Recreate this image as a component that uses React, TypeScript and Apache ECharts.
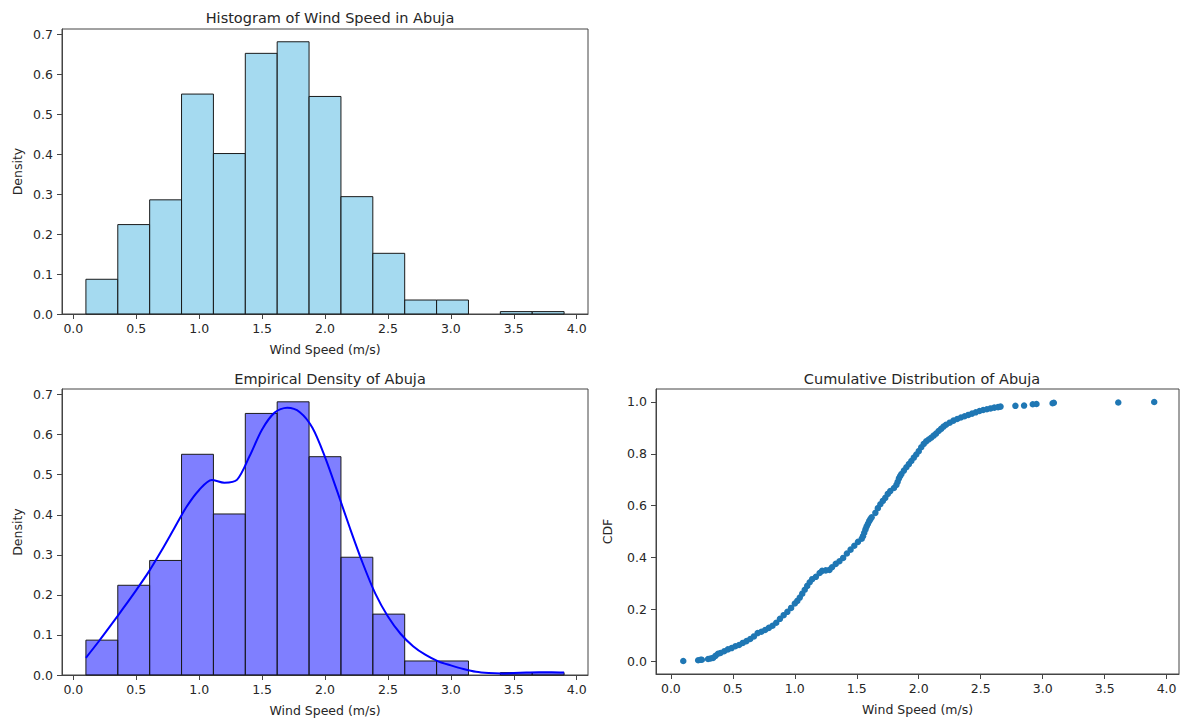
import React, { useEffect, useRef } from "react";
import * as echarts from "echarts";

// Histogram bins (wind speed, m/s) and density heights
const binEdges = [0.1, 0.3533, 0.6067, 0.86, 1.1133, 1.3667, 1.62, 1.8733, 2.1267, 2.38, 2.6333, 2.8867, 3.14, 3.3933, 3.6467, 3.9];
const histDensity = [0.087, 0.224, 0.286, 0.551, 0.402, 0.653, 0.682, 0.545, 0.294, 0.152, 0.035, 0.035, 0, 0.006, 0.006];

// KDE curve
const kdeX = [0.1, 0.2, 0.3, 0.4, 0.5, 0.6, 0.7, 0.8, 0.9, 1.0, 1.1, 1.2, 1.3, 1.4, 1.5, 1.6, 1.7, 1.8, 1.9, 2.0, 2.1, 2.2, 2.3, 2.4, 2.5, 2.6, 2.7, 2.8, 2.9, 3.0, 3.1, 3.2, 3.3, 3.4, 3.5, 3.6, 3.7, 3.8, 3.9];
const kdeY = [0.043, 0.083, 0.125, 0.168, 0.212, 0.258, 0.31, 0.365, 0.42, 0.462, 0.487, 0.48, 0.487, 0.546, 0.613, 0.655, 0.667, 0.656, 0.617, 0.544, 0.456, 0.365, 0.279, 0.203, 0.146, 0.103, 0.072, 0.05, 0.034, 0.024, 0.015, 0.008, 0.005, 0.004, 0.005, 0.006, 0.007, 0.007, 0.006];

// Empirical CDF points
const cdfX = [0.10, 0.22, 0.24, 0.25, 0.30, 0.32, 0.34, 0.36, 0.38, 0.40, 0.43, 0.46, 0.49, 0.52, 0.55, 0.58, 0.61, 0.64, 0.67, 0.70, 0.73, 0.76, 0.79, 0.82, 0.85, 0.88, 0.91, 0.94, 0.97, 1.00, 1.02, 1.04, 1.06, 1.08, 1.10, 1.12, 1.14, 1.17, 1.20, 1.22, 1.25, 1.28, 1.30, 1.33, 1.36, 1.39, 1.42, 1.45, 1.48, 1.51, 1.54, 1.55, 1.56, 1.57, 1.58, 1.59, 1.60, 1.61, 1.62, 1.65, 1.67, 1.69, 1.71, 1.73, 1.75, 1.77, 1.80, 1.82, 1.83, 1.84, 1.85, 1.86, 1.88, 1.90, 1.92, 1.94, 1.96, 1.98, 2.00, 2.02, 2.04, 2.06, 2.08, 2.10, 2.12, 2.14, 2.16, 2.18, 2.20, 2.22, 2.25, 2.28, 2.31, 2.34, 2.37, 2.40, 2.43, 2.46, 2.49, 2.52, 2.55, 2.58, 2.61, 2.64, 2.66, 2.78, 2.85, 2.92, 2.95, 3.08, 3.09, 3.61, 3.90];
const cdfY = [0.000, 0.003, 0.005, 0.005, 0.008, 0.010, 0.012, 0.020, 0.028, 0.031, 0.038, 0.045, 0.050, 0.057, 0.062, 0.070, 0.077, 0.085, 0.095, 0.108, 0.113, 0.120, 0.128, 0.136, 0.148, 0.163, 0.177, 0.190, 0.205, 0.222, 0.232, 0.245, 0.260, 0.275, 0.290, 0.304, 0.316, 0.325, 0.340, 0.348, 0.350, 0.352, 0.362, 0.375, 0.385, 0.398, 0.415, 0.430, 0.445, 0.460, 0.472, 0.482, 0.495, 0.508, 0.520, 0.530, 0.540, 0.548, 0.555, 0.572, 0.590, 0.605, 0.618, 0.630, 0.645, 0.656, 0.668, 0.680, 0.692, 0.705, 0.714, 0.722, 0.735, 0.748, 0.760, 0.772, 0.785, 0.797, 0.810, 0.825, 0.838, 0.848, 0.855, 0.862, 0.870, 0.878, 0.888, 0.896, 0.905, 0.912, 0.920, 0.928, 0.934, 0.940, 0.945, 0.950, 0.955, 0.960, 0.965, 0.969, 0.972, 0.975, 0.978, 0.980, 0.982, 0.985, 0.986, 0.991, 0.992, 0.995, 0.997, 0.998, 1.000];

// Tick labels
const xTicks = [0, 0.5, 1.0, 1.5, 2.0, 2.5, 3.0, 3.5, 4.0];
const densityTicks = [0, 0.1, 0.2, 0.3, 0.4, 0.5, 0.6, 0.7];
const cdfTicks = [0, 0.2, 0.4, 0.6, 0.8, 1.0];

const titles = ["Histogram of Wind Speed in Abuja", "Empirical Density of Abuja", "Cumulative Distribution of Abuja"];
const xName = "Wind Speed (m/s)";

const FONT = "DejaVu Sans";
const TXT = "#262626";
const SPINE = "#444444";

function axisCommon(ticks: number[]) {
  return {
    axisLine: { show: true, onZero: false, lineStyle: { color: SPINE, width: 1 } },
    axisTick: { show: true, inside: false, length: 5, customValues: ticks, lineStyle: { color: SPINE, width: 1 } },
    axisLabel: {
      customValues: ticks,
      formatter: (v: number) => Number(v).toFixed(1),
      color: TXT,
      fontSize: 12.5,
      fontFamily: FONT,
    },
    splitLine: { show: false },
    nameTextStyle: { color: TXT, fontSize: 12.5, fontFamily: FONT },
  };
}

function histRender(fill: string) {
  return (params: any, api: any) => {
    const x0 = api.value(0);
    const x1 = api.value(1);
    const h = api.value(2);
    if (!h) return null;
    const p0 = api.coord([x0, h]);
    const p1 = api.coord([x1, 0]);
    return {
      type: "rect",
      shape: { x: p0[0], y: p0[1], width: p1[0] - p0[0], height: p1[1] - p0[1] },
      style: { fill, stroke: "#1a1a1a", lineWidth: 1 },
    };
  };
}

export default function App() {
  const ref = useRef<HTMLDivElement>(null);

  useEffect(() => {
    document.body.style.margin = "0";
    if (!ref.current) return;
    const chart = echarts.init(ref.current, null, { renderer: "svg" });

    const histData = histDensity.map((h, i) => [binEdges[i], binEdges[i + 1], h]);
    const kdeData = kdeX.map((x, i) => [x, kdeY[i]]);
    const cdfData = cdfX.map((x, i) => [x, cdfY[i]]);

    const grids = [
      { left: 62, top: 29, width: 526, height: 285 },
      { left: 62, top: 389, width: 526, height: 286 },
      { left: 656, top: 389, width: 523, height: 285 },
    ].map((g) => ({ ...g, show: true, borderColor: SPINE, borderWidth: 1, backgroundColor: "transparent", outerBoundsMode: "none", containLabel: false }));

    const titleStyle = { color: TXT, fontSize: 14.5, fontFamily: FONT, fontWeight: "normal" as const };

    const option: any = {
      animation: false,
      backgroundColor: "#ffffff",
      title: [
        { text: titles[0], left: 325, top: 5, textAlign: "center", textStyle: titleStyle },
        { text: titles[1], left: 325, top: 366, textAlign: "center", textStyle: titleStyle },
        { text: titles[2], left: 917, top: 366, textAlign: "center", textStyle: titleStyle },
      ],
      grid: grids,
      xAxis: [0, 1, 2].map((gi) => {
        const c: any = axisCommon(xTicks);
        return {
          ...c,
          type: "value",
          gridIndex: gi,
          min: gi === 2 ? -0.12 : -0.09,
          max: gi === 2 ? 4.1 : 4.09,
          name: xName,
          nameLocation: "middle",
          nameGap: 28.5,
          axisLabel: { ...c.axisLabel, margin: 8 },
        };
      }),
      yAxis: [0, 1, 2].map((gi) => {
        const ticks = gi === 2 ? cdfTicks : densityTicks;
        const c: any = axisCommon(ticks);
        return {
          ...c,
          type: "value",
          gridIndex: gi,
          min: gi === 2 ? -0.05 : 0,
          max: gi === 2 ? 1.05 : 0.714,
          name: gi === 2 ? "CDF" : "Density",
          nameLocation: "middle",
          nameGap: gi === 2 ? 42 : 38,
          axisLabel: { ...c.axisLabel, margin: 9 },
        };
      }),
      series: [
        {
          type: "custom",
          xAxisIndex: 0,
          yAxisIndex: 0,
          data: histData,
          encode: { x: [0, 1], y: 2 },
          renderItem: histRender("rgba(135,206,235,0.75)"),
        },
        {
          type: "custom",
          xAxisIndex: 1,
          yAxisIndex: 1,
          data: histData,
          encode: { x: [0, 1], y: 2 },
          renderItem: histRender("rgba(0,0,255,0.5)"),
        },
        {
          type: "line",
          xAxisIndex: 1,
          yAxisIndex: 1,
          data: kdeData,
          smooth: 0.3,
          showSymbol: false,
          symbol: "none",
          lineStyle: { color: "#0000ff", width: 2 },
          z: 5,
        },
        {
          type: "scatter",
          xAxisIndex: 2,
          yAxisIndex: 2,
          data: cdfData,
          symbol: "circle",
          symbolSize: 6.5,
          itemStyle: { color: "#1f77b4", opacity: 1 },
        },
      ],
    };

    chart.setOption(option);
    return () => chart.dispose();
  }, []);

  return <div ref={ref} style={{ width: 1183, height: 718 }} />;
}
